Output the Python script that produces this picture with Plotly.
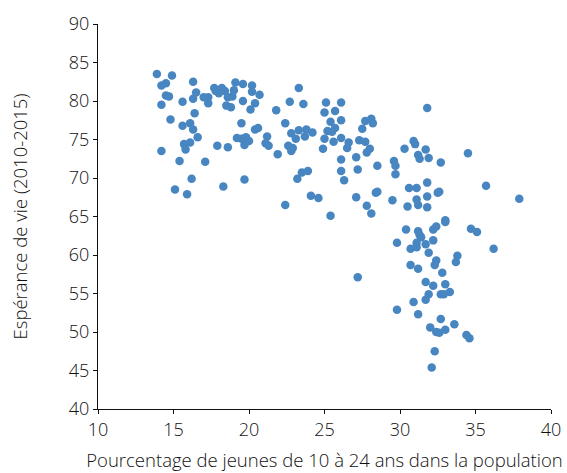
import plotly.graph_objects as go

# Pourcentage de jeunes de 10 à 24 ans (x) / Espérance de vie 2010-2015 (y)
jeunes = [
    13.9, 14.9, 14.2, 14.5, 16.3, 14.5, 14.7, 14.2, 15.6, 16.5, 16.3, 16.4, 14.8, 15.6, 16.1, 16.3,
    16.6, 15.7, 16.1, 15.8, 14.2, 15.4, 17.1, 16.2, 15.1, 15.9, 18.3, 19.7, 22.4, 17.0, 17.3, 17.3,
    17.7, 17.8, 18.0, 18.2, 18.4, 18.6, 18.9, 19.0, 19.1, 19.6, 20.2, 20.2, 20.7, 19.6, 20.4, 20.1,
    18.5, 18.8, 21.8, 22.7, 19.5, 22.4, 22.8, 19.2, 19.5, 19.8, 20.0, 19.7, 20.4, 20.6, 21.2, 21.1,
    21.3, 21.9, 22.6, 17.9, 18.6,
    23.3, 23.6, 25.1, 26.1, 25.0, 25.7, 25.4, 26.1, 23.3, 23.8, 24.2, 23.1, 23.7, 22.9, 22.8, 25.2,
    25.5, 25.7, 25.0, 25.6, 26.1, 24.9, 26.6, 26.5, 27.7, 28.1, 28.2, 27.5, 27.3, 27.7, 28.0, 27.8,
    27.1, 26.1, 27.2, 28.5, 26.1, 26.3, 23.2, 23.5, 23.9, 24.1, 24.6, 25.4, 27.1, 27.8, 28.1, 28.4,
    28.5, 29.5, 30.5, 30.6, 31.1, 31.1, 31.2, 31.8, 31.8, 31.8, 29.6, 29.7, 29.7, 30.3, 30.9, 31.0,
    31.7, 31.2, 31.3, 31.9, 31.8, 30.4,
    32.7, 34.5, 32.5, 32.6, 35.7, 37.9, 33.0, 33.0, 34.7, 35.1, 31.2, 31.3, 31.4, 31.1, 31.1, 31.7,
    32.2, 32.4, 32.2, 29.8, 30.7, 31.9, 36.2, 33.8, 33.7, 32.4, 32.3, 30.7, 31.2, 32.8, 27.2, 31.7,
    32.2, 33.0, 31.9, 31.7, 32.7, 32.9, 33.3, 30.9, 29.8, 31.2, 32.7, 32.0, 32.4, 32.6, 33.0, 33.6,
    34.4, 34.6, 32.3, 32.1,
]
esperance = [
    83.5, 83.3, 82.0, 82.3, 82.5, 80.7, 80.6, 79.5, 79.9, 81.1, 80.3, 78.4, 77.6, 76.8, 77.1, 76.3,
    75.3, 74.4, 74.6, 73.7, 73.5, 72.2, 72.1, 69.9, 68.5, 67.9, 68.9, 69.8, 66.5, 80.5, 80.5, 79.7,
    81.7, 81.3, 81.0, 81.7, 81.3, 80.5, 80.6, 81.4, 82.4, 82.2, 82.0, 81.2, 80.8, 80.0, 79.7, 78.9,
    79.4, 79.2, 78.8, 79.9, 77.1, 77.1, 75.8, 75.2, 75.1, 75.3, 74.8, 74.3, 76.3, 76.5, 75.4, 74.5,
    74.2, 73.1, 74.2, 74.2, 74.0,
    81.7, 79.6, 79.8, 79.8, 78.5, 78.7, 77.3, 77.5, 76.2, 76.3, 75.9, 75.1, 75.4, 73.9, 73.5, 76.1,
    76.0, 76.5, 75.1, 74.7, 75.2, 73.8, 74.6, 73.9, 77.4, 77.7, 77.1, 76.4, 74.9, 74.7, 73.8, 73.3,
    72.7, 72.4, 71.1, 71.6, 70.9, 69.7, 69.9, 70.7, 70.9, 67.7, 67.4, 65.1, 67.5, 66.4, 65.4, 68.1,
    68.2, 67.1, 66.3, 68.7, 68.7, 67.2, 66.5, 67.6, 69.4, 66.2, 72.2, 71.6, 70.5, 73.8, 74.8, 74.4,
    73.7, 73.0, 72.5, 72.6, 79.1, 63.3,
    72.0, 73.2, 68.1, 68.2, 69.0, 67.3, 64.5, 64.3, 63.4, 63.0, 63.1, 62.6, 62.3, 61.6, 61.0, 61.4,
    63.3, 63.7, 61.9, 61.6, 60.8, 60.3, 60.8, 59.9, 59.1, 59.3, 58.7, 58.7, 58.2, 57.7, 57.1, 56.5,
    56.0, 56.2, 54.9, 54.2, 54.9, 54.9, 55.2, 53.9, 52.9, 52.3, 51.7, 50.6, 50.0, 49.9, 50.3, 51.0,
    49.6, 49.2, 47.5, 45.4,
]

x_ticks = [10, 15, 20, 25, 30, 35, 40]
y_ticks = [40, 45, 50, 55, 60, 65, 70, 75, 80, 85, 90]

FONT = "Open Sans"
INK = "#111111"

fig = go.Figure(
    go.Scatter(
        x=jeunes,
        y=esperance,
        mode="markers",
        marker=dict(size=8.5, color="#4886c1", line=dict(width=0)),
        hoverinfo="x+y",
    )
)

fig.update_layout(
    width=567,
    height=473,
    margin=dict(l=98, r=16, t=24, b=64),
    paper_bgcolor="white",
    plot_bgcolor="white",
    font=dict(family=FONT, color=INK, weight=300),
    showlegend=False,
)

fig.update_xaxes(
    range=[10, 40],
    tickvals=x_ticks,
    ticktext=[str(v) for v in x_ticks],
    ticks="outside",
    ticklen=4,
    tickwidth=1.2,
    tickcolor=INK,
    showline=True,
    linecolor=INK,
    linewidth=1.3,
    showgrid=False,
    zeroline=False,
    automargin=False,
    tickfont=dict(size=18, family=FONT, color=INK, weight=300),
    title=dict(
        text="Pourcentage de jeunes de 10 à 24 ans dans la population",
        font=dict(size=18.5, family=FONT, color=INK, weight=300),
        standoff=14,
    ),
)

fig.update_yaxes(
    range=[40, 90],
    tickvals=y_ticks,
    ticktext=[str(v) for v in y_ticks],
    ticks="outside",
    ticklen=4,
    tickwidth=1.2,
    tickcolor=INK,
    showline=True,
    linecolor=INK,
    linewidth=1.3,
    showgrid=False,
    zeroline=False,
    automargin=False,
    tickfont=dict(size=18, family=FONT, color=INK, weight=300),
    title=dict(
        text="Espérance de vie (2010-2015)",
        font=dict(size=18.5, family=FONT, color=INK, weight=300),
        standoff=36,
    ),
)

fig.write_html("out.html")
